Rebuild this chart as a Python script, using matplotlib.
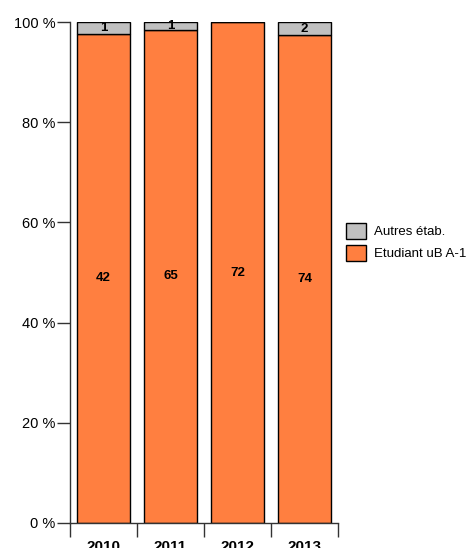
import matplotlib
matplotlib.use("Agg")
import matplotlib.pyplot as plt
import numpy as np

plt.rcParams['font.family'] = ['Liberation Sans', 'DejaVu Sans']

years = ['2010', '2011', '2012', '2013']
etudiant = [42, 65, 72, 74]
autres = [1, 1, 0, 2]
series_names = ['Etudiant uB A-1', 'Autres étab.']
colors = ['#FF7F40', '#C0C0C0']
yticks = [0, 20, 40, 60, 80, 100]

fig = plt.figure(figsize=(4.67, 5.48), dpi=100)
ax = fig.add_axes([70/467, 25/548, 268/467, 501/548])

x = np.arange(len(years))
tot = np.array(etudiant) + np.array(autres)
p1 = np.array(etudiant) / tot * 100
p2 = np.array(autres) / tot * 100

b1 = ax.bar(x, p1, width=0.8, color=colors[0], edgecolor='black', linewidth=1, label=series_names[0])
b2 = ax.bar(x, p2, bottom=p1, width=0.8, color=colors[1], edgecolor='black', linewidth=1, label=series_names[1])

for i in range(len(years)):
    if etudiant[i] > 0:
        ax.text(x[i], p1[i] / 2, str(etudiant[i]), ha='center', va='center', fontsize=9.5, fontweight='bold')
    if autres[i] > 0:
        ax.text(x[i], p1[i] + p2[i] / 2, str(autres[i]), ha='center', va='center', fontsize=9.5, fontweight='bold')

ax.set_xlim(-0.5, len(years) - 0.5)
ax.set_ylim(0, 100)
ax.set_yticks(yticks)
ax.set_yticklabels([f'{v} %' for v in yticks], fontsize=10.5)
ax.tick_params(axis='y', length=9.4, width=1, color='#333333', pad=1)

ax.set_xticks(np.arange(len(years) + 1) - 0.5)
ax.set_xticklabels([])
ax.set_xticks(x, minor=True)
ax.set_xticklabels(years, minor=True, fontsize=11, fontweight='bold')
ax.tick_params(axis='x', which='major', length=10, width=1, color='#333333')
ax.tick_params(axis='x', which='minor', length=0, pad=12)

for s in ['top', 'right']:
    ax.spines[s].set_visible(False)
for s in ['left', 'bottom']:
    ax.spines[s].set_color('#333333')
    ax.spines[s].set_linewidth(1)

handles = [b2, b1]
leg = fig.legend(handles, [series_names[1], series_names[0]], loc='upper left',
                 bbox_to_anchor=(346/467, 1 - 223/548), frameon=False, fontsize=9.5,
                 handlelength=1.5, handleheight=1.5, handletextpad=0.65, labelspacing=0.45,
                 borderaxespad=0, borderpad=0)

fig.savefig('out.png', dpi=100)
